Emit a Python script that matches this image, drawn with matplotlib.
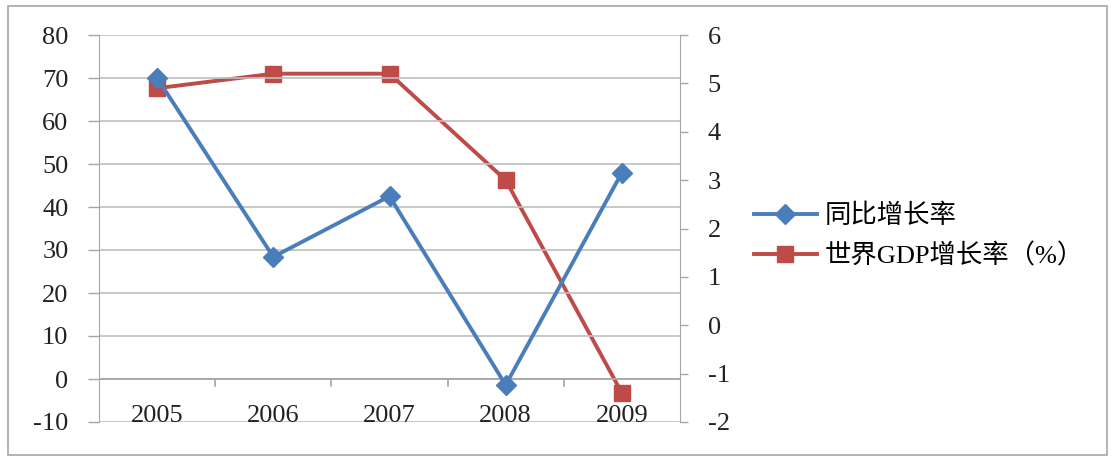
import numpy as np
import matplotlib
matplotlib.use('Agg')
from matplotlib import pyplot as plt
from matplotlib.patches import Rectangle

# datos
years = ['2005', '2006', '2007', '2008', '2009']
tasa = [70, 28.4, 42.5, -1.4, 48]          # eje izquierdo
pib_mundial = [4.9, 5.2, 5.2, 3.0, -1.4]   # eje derecho
nombre_tasa = '同比增长率'
nombre_pib = '世界GDP增长率（%）'

fuentes = ['Liberation Serif', 'Noto Sans CJK SC', 'DejaVu Sans']
plt.rcParams['font.family'] = fuentes
plt.rcParams['axes.unicode_minus'] = False

azul = '#4A7EBB'
rojo = '#BE4B48'
gris = '#A6A6A6'
tam = 19

fig = plt.figure(figsize=(11.15, 4.61), dpi=100)
# borde exterior del grafico
fig.patches.append(Rectangle((8/1115, 6/461), 1099/1115, 449/461, transform=fig.transFigure,
                             fill=False, edgecolor=gris, lw=1.2))

ax = fig.add_axes([99/1115, 1-422/461, 581/1115, 387/461])
ax2 = ax.twinx()

x = np.arange(len(years))
ax.set_xlim(-0.5, len(years)-0.5)
ax.set_ylim(-10, 80)
ax2.set_ylim(-2, 6)
ax.set_yticks(np.arange(-10, 81, 10))
ax2.set_yticks(np.arange(-2, 7, 1))

# rejilla horizontal
for v in np.arange(-10, 81, 10):
    ax.axhline(v, color='#BFBFBF', lw=1.2, zorder=0)

for s in ['top', 'bottom']:
    ax.spines[s].set_visible(False)
    ax2.spines[s].set_visible(False)
ax.spines['left'].set_color(gris)
ax.spines['right'].set_visible(False)
ax2.spines['left'].set_visible(False)
ax2.spines['right'].set_color(gris)

ax.tick_params(axis='y', colors=gris, labelcolor='#222222', labelsize=tam, length=8, width=1, pad=14)
ax2.tick_params(axis='y', colors=gris, labelcolor='#222222', labelsize=tam, length=6, width=1, pad=14)

# eje de categorias en cero con marcas entre categorias
ax.set_xticks([])
ax.plot([-0.5, len(years)-0.5], [0, 0], color=gris, lw=1.2, zorder=1)
for b in np.arange(0.5, len(years)-0.5, 1):
    ax.plot([b, b], [0, -1.6], color=gris, lw=1.2, zorder=1)
for i in range(len(years)):
    ax.text(x[i], -8.6, years[i], ha='center', va='center', fontsize=tam, color='#222222')

ax.plot(x, tasa, color=azul, lw=2.8, marker='D', markersize=10, zorder=3)
ax2.plot(x, pib_mundial, color=rojo, lw=2.8, marker='s', markersize=12, zorder=3)
ax.set_zorder(ax2.get_zorder()+1)
ax.patch.set_visible(False)

h1, = ax.plot([], [], color=azul, lw=2.8, marker='D', markersize=10)
h2, = ax.plot([], [], color=rojo, lw=2.8, marker='s', markersize=12)
fig.legend([h1, h2], [nombre_tasa, nombre_pib], loc='center left',
           bbox_to_anchor=(730/1115, 1-236/461), frameon=False,
           prop={'family': fuentes, 'size': tam}, handlelength=2.4,
           labelspacing=0.6, handletextpad=0.3)

plt.savefig('out.png', dpi=100)
